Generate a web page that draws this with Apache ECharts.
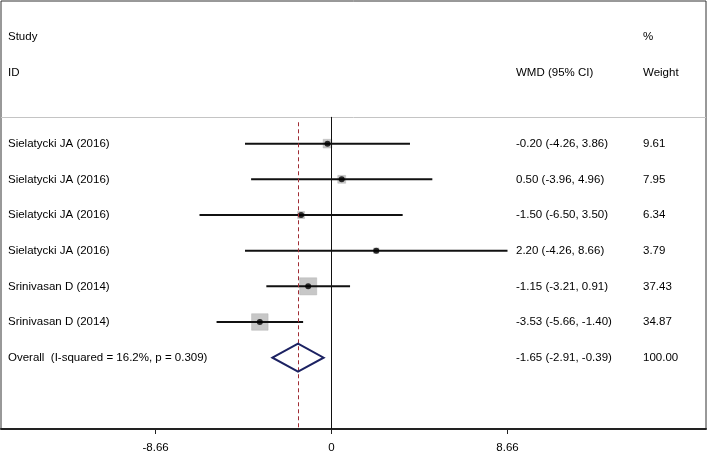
<!DOCTYPE html>
<html>
<head>
<meta charset="utf-8">
<script src="https://cdn.jsdelivr.net/npm/echarts@6/dist/echarts.min.js"></script>
<style>
    html, body { margin: 0; padding: 0; background: #fff; }
    #chart { width: 709px; height: 454px; }
</style>
</head>
<body>
<div id="chart"></div>
<script>
    // 研究数据
    var studies = ['Sielatycki JA (2016)', 'Sielatycki JA (2016)', 'Sielatycki JA (2016)',
        'Sielatycki JA (2016)', 'Srinivasan D (2014)', 'Srinivasan D (2014)'];
    var est = [-0.20, 0.50, -1.50, 2.20, -1.15, -3.53];
    var lo = [-4.26, -3.96, -6.50, -4.26, -3.21, -5.66];
    var hi = [3.86, 4.96, 3.50, 8.66, 0.91, -1.40];
    var weights = [9.61, 7.95, 6.34, 3.79, 37.43, 34.87];
    var overall = { label: 'Overall  (I-squared = 16.2%, p = 0.309)', est: -1.65, lo: -2.91, hi: -0.39, weight: 100.00 };
    var xTicks = [-8.66, 0, 8.66];

    var font = "'Liberation Sans', Arial, sans-serif";
    var fs = 11.5;
    var firstRow = 3; // 研究行起始位置

    function fmt(v) { return v.toFixed(2); }
    function ci(e, l, h) { return fmt(e) + ' (' + fmt(l) + ', ' + fmt(h) + ')'; }

    // 行: -1 .. 11
    var colStudy = ['', 'Study', 'ID', ''];
    var colWmd = ['', '', 'WMD (95% CI)', ''];
    var colWeight = ['', '%', 'Weight', ''];
    for (var i = 0; i < studies.length; i++) {
        colStudy.push(studies[i]);
        colWmd.push(ci(est[i], lo[i], hi[i]));
        colWeight.push(fmt(weights[i]));
    }
    colStudy.push(overall.label, '', '');
    colWmd.push(ci(overall.est, overall.lo, overall.hi), '', '');
    colWeight.push(fmt(overall.weight), '', '');

    var ciData = [], boxData = [], dotData = [];
    for (var j = 0; j < est.length; j++) {
        ciData.push([lo[j], hi[j], firstRow + j]);
        boxData.push([est[j], firstRow + j, weights[j]]);
        dotData.push([est[j], firstRow + j]);
    }
    var overallRow = firstRow + est.length;

    function labelAxis(pos, data, margin) {
        return {
            type: 'category',
            position: pos,
            inverse: true,
            boundaryGap: false,
            data: data,
            axisLine: { show: false },
            axisTick: { show: false },
            splitLine: { show: false },
            axisLabel: {
                inside: true,
                interval: 0,
                margin: margin,
                align: 'left',
                color: '#000',
                fontSize: fs,
                fontFamily: font
            }
        };
    }

    var chart = echarts.init(document.getElementById('chart'));
    var option = {
        animation: false,
        grid: {
            left: 1, right: 3, top: 1, bottom: 24,
            show: true,
            borderColor: '#333',
            borderWidth: 1
        },
        xAxis: {
            type: 'value',
            min: -16.27,
            max: 18.43,
            splitLine: { show: false },
            axisLine: { onZero: false, lineStyle: { color: '#222', width: 2 } },
            axisTick: { customValues: xTicks, length: 5, lineStyle: { color: '#222' } },
            axisLabel: {
                customValues: xTicks,
                margin: 13,
                color: '#000',
                fontSize: fs,
                fontFamily: font,
                formatter: function (v) { return v === 0 ? '0' : fmt(v); }
            }
        },
        yAxis: [{
            type: 'value',
            min: -1,
            max: 11,
            inverse: true,
            show: false
        },
            labelAxis('left', colStudy, 7),
            labelAxis('right', colWmd, 190),
            labelAxis('right', colWeight, 63)
        ],
        series: [{
            // 分隔线、零线、合并效应虚线
            type: 'line',
            data: [],
            markLine: {
                silent: true,
                symbol: 'none',
                label: { show: false },
                data: [
                    [{ coord: [-16.27, 2.25], lineStyle: { color: '#c4c4c4', width: 1, type: 'solid' } }, { coord: [18.43, 2.25] }],
                    [{ coord: [0, 2.25], lineStyle: { color: '#111', width: 1, type: 'solid' } }, { coord: [0, 11] }],
                    [{ coord: [overall.est, 2.4], lineStyle: { color: '#a02c34', width: 1, type: [4, 3] } }, { coord: [overall.est, 11] }]
                ]
            }
        }, {
            type: 'scatter',
            symbol: 'rect',
            data: boxData,
            symbolSize: function (v) { return 2.8 * Math.sqrt(v[2]); },
            itemStyle: { color: '#b9b9b9', borderColor: '#a9a9a9', borderWidth: 0.5 },
            z: 2
        }, {
            type: 'custom',
            data: ciData,
            encode: { x: [0, 1], y: 2 },
            renderItem: function (params, api) {
                var p1 = api.coord([api.value(0), api.value(2)]);
                var p2 = api.coord([api.value(1), api.value(2)]);
                return {
                    type: 'line',
                    shape: { x1: p1[0], y1: p1[1], x2: p2[0], y2: p2[1] },
                    style: { stroke: '#111', lineWidth: 2 }
                };
            },
            z: 3
        }, {
            type: 'scatter',
            symbol: 'circle',
            symbolSize: 6,
            data: dotData,
            itemStyle: { color: '#000' },
            z: 4
        }, {
            type: 'custom',
            data: [[overall.lo, overall.est, overall.hi, overallRow]],
            encode: { x: [0, 1, 2], y: 3 },
            renderItem: function (params, api) {
                var r = api.value(3);
                var l = api.coord([api.value(0), r]);
                var c = api.coord([api.value(1), r]);
                var h = api.coord([api.value(2), r]);
                return {
                    type: 'polygon',
                    shape: { points: [[l[0], l[1]], [c[0], c[1] - 14], [h[0], h[1]], [c[0], c[1] + 14]] },
                    style: { fill: 'none', stroke: '#1c2262', lineWidth: 2 }
                };
            },
            z: 5
        }]
    };
    chart.setOption(option);
</script>
</body>
</html>
